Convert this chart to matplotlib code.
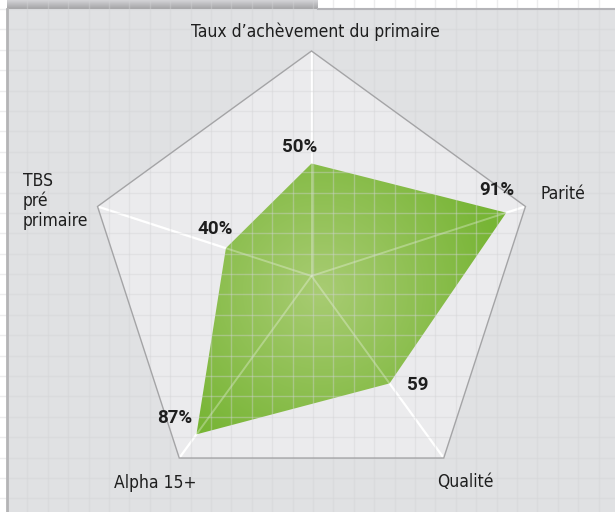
import numpy as np
import matplotlib
matplotlib.use("Agg")
import matplotlib.pyplot as plt
from matplotlib.patches import Polygon, Rectangle
from matplotlib import font_manager as fm

# ---- data ----
categories = ["Taux d\u2019achèvement du primaire", "Parité", "Qualité", "Alpha 15+", "TBS\npré\nprimaire"]
values = [50, 91, 59, 87, 40]
value_labels = ["50%", "91%", "59", "87%", "40%"]
max_value = 100

names = sorted({f.name for f in fm.fontManager.ttflist})
print(names)
print([ (f.name, f.weight, f.stretch) for f in fm.fontManager.ttflist if 'DejaVu' in f.name or 'Roboto' in f.name or 'Noto Sans' == f.name or 'Liberation' in f.name])

# ---- geometry (pixel-like coordinates) ----
W, H = 615, 512
CX, CY, R = 311.5, 276.0, 225.0
n = len(categories)
angles = np.deg2rad(90 - 72 * np.arange(n))

def to_xy(frac, ang):
    return CX + frac * R * np.cos(ang), CY - frac * R * np.sin(ang)

fig = plt.figure(figsize=(W / 100, H / 100), dpi=100)
ax = fig.add_axes([0, 0, 1, 1])
ax.set_xlim(0, W)
ax.set_ylim(H, 0)
ax.axis("off")

ax.add_patch(Rectangle((0, 0), W, H, facecolor="white", edgecolor="none", zorder=0))
ax.add_patch(Rectangle((7, 9), W - 7, H - 9, facecolor="#e0e1e3", edgecolor="none", zorder=0.1))

bar = np.linspace(0, 1, 20)[:, None]
top_c = np.array([0.83, 0.83, 0.84])
bot_c = np.array([0.64, 0.64, 0.65])
bar_img = top_c[None, None, :] * (1 - bar[:, :, None]) + bot_c[None, None, :] * bar[:, :, None]
ax.imshow(np.repeat(bar_img, 2, axis=1), extent=(7, 318, 9, 0), aspect="auto", zorder=0.2, interpolation="bilinear")

px, py = to_xy(1.0, angles)
ax.add_patch(Polygon(np.column_stack([px, py]), closed=True, facecolor="#ebebed", edgecolor="none", zorder=1))

for a in angles:
    x1, y1 = to_xy(1.0, a)
    ax.plot([CX, x1], [CY, y1], color="white", lw=1.6, zorder=2, solid_capstyle="butt")
    ax.plot([CX, x1], [CY, y1], color="white", lw=1.4, alpha=0.3, zorder=3.5, solid_capstyle="butt")

fr = np.array(values) / max_value
dx, dy = to_xy(fr, angles)
poly = Polygon(np.column_stack([dx, dy]), closed=True, facecolor="none", edgecolor="none", zorder=3)
ax.add_patch(poly)
gx = np.linspace(0, W, 400)
gy = np.linspace(0, H, 340)
GX, GY = np.meshgrid(gx, gy)
dist = np.sqrt((GX - CX - 10) ** 2 + (GY - CY - 15) ** 2) / R
t = np.clip(dist / 0.8, 0, 1)[:, :, None]
light = np.array([0.66, 0.80, 0.45])
dark = np.array([0.47, 0.71, 0.21])
rgb = light * (1 - t) + dark * t
im = ax.imshow(rgb, extent=(0, W, H, 0), aspect="auto", zorder=3, interpolation="bilinear")
im.set_clip_path(poly)

gcol = "#d3d4d6"
for x in np.arange(27.3, W, 20.4):
    ax.axvline(x, color=gcol, lw=1, alpha=0.4, zorder=4)
for y in np.arange(29.3 - 20.4, H, 20.4):
    ax.axhline(y, color=gcol, lw=1, alpha=0.4, zorder=4)

ax.plot([6.5, 6.5], [9, H], color="#b4b4b6", lw=2, zorder=4.5)
ax.plot([318, W], [9, 9], color="#b4b4b8", lw=1.5, zorder=4.5)

ax.add_patch(Polygon(np.column_stack([px, py]), closed=True, facecolor="none", edgecolor="#a4a4a6", lw=1.0, zorder=5))

cat_font = dict(family=["DejaVu Sans"], fontstretch="condensed", fontsize=12.5, color="#1e1e1e", zorder=6)
ax.text(315, 32, categories[0], ha="center", va="center", **cat_font)
ax.text(541, 194, categories[1], ha="left", va="center", **cat_font)
ax.text(465, 482, categories[2], ha="center", va="center", **cat_font)
ax.text(155, 483, categories[3], ha="center", va="center", **cat_font)
ax.text(23, 201, categories[4], ha="left", va="center", linespacing=1.15, **cat_font)

val_font = dict(family=["Roboto", "DejaVu Sans"], fontsize=13.5, fontweight="bold", color="#1e1e1e", zorder=6)
val_pos = [(300, 147), (496.5, 190), (417.5, 385), (175, 418), (215, 229)]
for (lx, ly), lab in zip(val_pos, value_labels):
    ax.text(lx, ly, lab, ha="center", va="center", **val_font)

fig.savefig("out.png", dpi=100)
